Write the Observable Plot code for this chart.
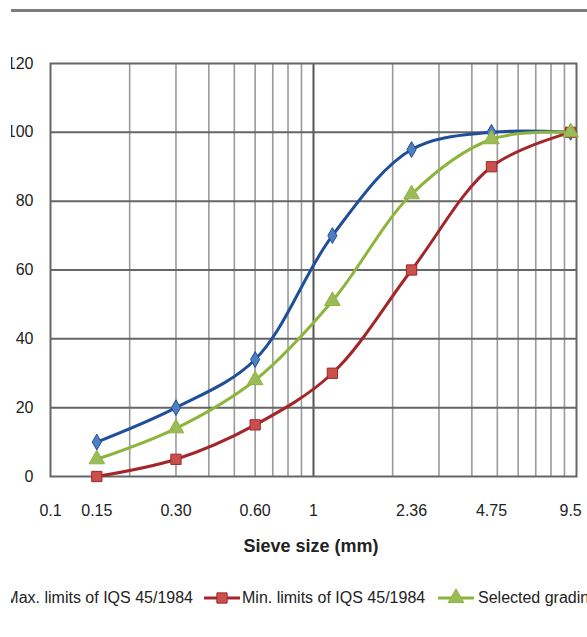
<!DOCTYPE html>
<html>
<head>
<meta charset="utf-8">
<script src="https://cdn.jsdelivr.net/npm/d3@7"></script>
<script src="https://cdn.jsdelivr.net/npm/@observablehq/plot@0.6"></script>
<style>
  html, body { margin: 0; padding: 0; background: #fff; }
  #wrap { position: relative; width: 587px; height: 637px; overflow: hidden; font-family: "Liberation Sans", Arial, sans-serif; }
  #chart { position: absolute; left: 0; top: 0; }
  .topline { position: absolute; left: 11px; right: 0; top: 9px; height: 2.5px; background: #7c7c7c; }
  .leftcover { position: absolute; left: 0; top: 0; width: 11px; height: 637px; background: #fff; }
  .xlabel { position: absolute; top: 536px; left: 0; width: 622px; text-align: center; font-weight: bold; font-size: 18px; color: #222; }
  .leg { position: absolute; top: 588px; font-size: 16px; color: #222; white-space: nowrap; line-height: 20px; }
  .sw { position: absolute; top: 588px; }
</style>
</head>
<body>
<div id="wrap">
  <div id="chart"></div>
  <div class="topline"></div>
  <div class="xlabel">Sieve size (mm)</div>
  <div id="legend"></div>
  <div class="leftcover"></div>
</div>
<script>
// Data
const sieve = [0.15, 0.30, 0.60, 1.18, 2.36, 4.75, 9.5];
const maxLimits = [10, 20, 34, 70, 95, 100, 100];
const minLimits = [0, 5, 15, 30, 60, 90, 100];
const selected = [5, 14, 28, 51, 82, 98, 100];
const seriesNames = ["Max. limits of IQS 45/1984", "Min. limits of IQS 45/1984", "Selected grading"];
const xTickValues = [0.1, 0.15, 0.30, 0.60, 1, 2.36, 4.75, 9.5];
const xTickLabels = ["0.1", "0.15", "0.30", "0.60", "1", "2.36", "4.75", "9.5"];
const yTicks = [0, 20, 40, 60, 80, 100, 120];
const minorGrid = [0.2, 0.3, 0.4, 0.5, 0.6, 0.7, 0.8, 0.9, 2, 3, 4, 5, 6, 7, 8, 9];
const majorGridX = [1];
const majorGridY = [20, 40, 60, 80, 100];

const series = [
  {name: seriesNames[0], values: maxLimits, line: "#1f4e9a", fill: "#4f7fc0", symbol: "diamond", r: 4.8},
  {name: seriesNames[1], values: minLimits, line: "#a3262a", fill: "#c9504c", symbol: "square", r: 5.8},
  {name: seriesNames[2], values: selected, line: "#8db53c", fill: "#9bbb59", symbol: "triangle", r: 5.8}
];
const rows = series.flatMap(s => sieve.map((x, i) => ({x, y: s.values[i], name: s.name})));
const xTicks = xTickValues.map((v, i) => ({v, label: xTickLabels[i]}));

const marks = [
  Plot.ruleX(minorGrid, {stroke: "#9a9a9a", strokeWidth: 1.6}),
  Plot.ruleX(majorGridX, {stroke: "#555", strokeWidth: 2}),
  Plot.ruleY(majorGridY, {stroke: "#666", strokeWidth: 2}),
  Plot.frame({stroke: "#666", strokeWidth: 2}),
  Plot.text(xTicks, {x: "v", text: "label", frameAnchor: "bottom", lineAnchor: "middle", dy: 34, fontSize: 16, fill: "#222"}),
  Plot.axisY(yTicks, {tickSize: 0, tickPadding: 17, fontSize: 16, fill: "#222", label: null})
];
for (const s of series) {
  const d = rows.filter(r => r.name === s.name);
  marks.push(Plot.line(d, {x: "x", y: "y", stroke: s.line, strokeWidth: 3, curve: "catmull-rom"}));
  marks.push(Plot.dot(d, {x: "x", y: "y", symbol: () => s.symbol, r: s.r, fill: s.fill, stroke: s.line, strokeWidth: 1}));
}

const chart = Plot.plot({
  width: 587,
  height: 565,
  marginTop: 63,
  marginBottom: 89,
  marginLeft: 50,
  marginRight: 11,
  x: {type: "log", domain: [0.1, 10], axis: null},
  y: {domain: [0, 120], axis: null},
  symbol: {type: "identity"},
  style: {fontFamily: "'Liberation Sans', Arial, sans-serif", fontSize: "16px", background: "transparent", color: "#222", overflow: "visible"},
  marks
});
document.getElementById("chart").appendChild(chart);

// Legend
const legend = document.getElementById("legend");
const legendItems = [
  {s: series[0], swLeft: -45, textRight: 193},
  {s: series[1], swLeft: 203, textLeft: 242},
  {s: series[2], swLeft: 437, textLeft: 478}
];
function swatchSvg(s) {
  const sym = {diamond: d3.symbolDiamond, square: d3.symbolSquare, triangle: d3.symbolTriangle}[s.symbol];
  const path = d3.symbol(sym, Math.PI * s.r * s.r)();
  return `<svg width="38" height="20"><line x1="1" x2="37" y1="10" y2="10" stroke="${s.line}" stroke-width="3"/>` +
    `<path transform="translate(19,10)" d="${path}" fill="${s.fill}" stroke="${s.line}" stroke-width="1"/></svg>`;
}
for (const it of legendItems) {
  const sw = document.createElement("div");
  sw.className = "sw";
  sw.style.left = it.swLeft + "px";
  sw.innerHTML = swatchSvg(it.s);
  legend.appendChild(sw);
  const t = document.createElement("div");
  t.className = "leg";
  if (it.textRight != null) { t.style.right = (587 - it.textRight) + "px"; }
  else { t.style.left = it.textLeft + "px"; }
  t.textContent = it.s.name;
  legend.appendChild(t);
}
</script>
</body>
</html>
